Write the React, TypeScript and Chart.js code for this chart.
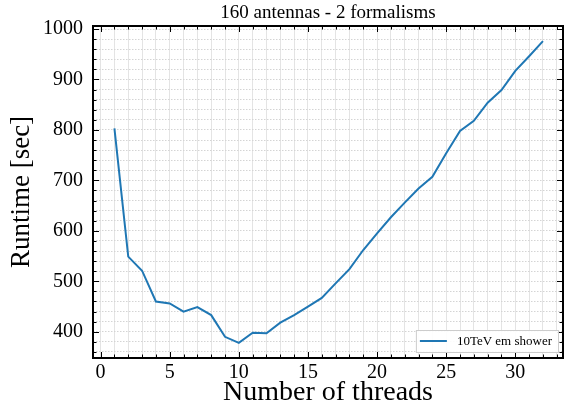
import React, { useEffect, useRef } from "react";
import { Chart, registerables } from "chart.js";

Chart.register(...registerables);

const threads = [1, 2, 3, 4, 5, 6, 7, 8, 9, 10, 11, 12, 13, 14, 15, 16, 17, 18, 19, 20, 21, 22, 23, 24, 25, 26, 27, 28, 29, 30, 31, 32];
const runtime = [803, 549, 521, 460, 456, 440, 449, 433, 390, 378, 398, 397, 418, 433, 450, 467, 496, 524, 562, 595, 627, 656, 684, 707, 754, 798, 818, 854, 879, 917, 946, 976];
const xTickValues = [0, 1, 2, 3, 4, 5, 6, 7, 8, 9, 10, 11, 12, 13, 14, 15, 16, 17, 18, 19, 20, 21, 22, 23, 24, 25, 26, 27, 28, 29, 30, 31, 32, 33];
const xMajorLabels = [0, 5, 10, 15, 20, 25, 30];
const yTickValues = [360, 380, 400, 420, 440, 460, 480, 500, 520, 540, 560, 580, 600, 620, 640, 660, 680, 700, 720, 740, 760, 780, 800, 820, 840, 860, 880, 900, 920, 940, 960, 980, 1000];
const yMajorLabels = [400, 500, 600, 700, 800, 900, 1000];
const seriesLabel = "10TeV em shower";
const chartTitle = "160 antennas - 2 formalisms";
const xTitle = "Number of threads";
const yTitle = "Runtime [sec]";

const X_MIN = -0.55;
const X_MAX = 33.45;
const Y_MIN = 348;
const Y_MAX = 1006;

const FONT = "'Liberation Serif', 'DejaVu Serif', serif";
const LINE_COLOR = "#1f77b4";

const framePlugin = {
  id: "frameTicksLegend",
  afterDatasetsDraw(chart: any) {
    const { ctx, chartArea: a, scales } = chart;
    const x = scales.x;
    const y = scales.y;
    ctx.save();
    ctx.strokeStyle = "#000";
    ctx.lineWidth = 1;
    const seg = (x1: number, y1: number, x2: number, y2: number) => {
      ctx.beginPath();
      ctx.moveTo(x1, y1);
      ctx.lineTo(x2, y2);
      ctx.stroke();
    };
    x.ticks.forEach((t: any) => {
      const px = Math.round(x.getPixelForValue(t.value)) + 0.5;
      const len = xMajorLabels.includes(t.value) ? 6 : 3.5;
      seg(px, a.bottom, px, a.bottom - len);
      seg(px, a.top, px, a.top + len);
    });
    y.ticks.forEach((t: any) => {
      const py = Math.round(y.getPixelForValue(t.value)) + 0.5;
      const len = yMajorLabels.includes(t.value) ? 6 : 3.5;
      seg(a.left, py, a.left + len, py);
      seg(a.right, py, a.right - len, py);
    });
    ctx.lineWidth = 2;
    ctx.strokeRect(a.left, a.top, a.right - a.left, a.bottom - a.top);

    // legend (lower right, inside plot)
    const label = chart.data.datasets[0].label as string;
    ctx.font = `13px ${FONT}`;
    const tw = ctx.measureText(label).width;
    const boxH = 22;
    const sample = 27;
    const boxW = 4 + sample + 10 + tw + 6;
    const bx = a.right - 5 - boxW;
    const by = a.bottom - 6 - boxH;
    ctx.fillStyle = "rgba(255,255,255,0.9)";
    ctx.fillRect(bx, by, boxW, boxH);
    ctx.strokeStyle = "#cccccc";
    ctx.lineWidth = 1;
    ctx.strokeRect(bx + 0.5, by + 0.5, boxW, boxH);
    ctx.strokeStyle = LINE_COLOR;
    ctx.lineWidth = 2;
    const cy = by + boxH / 2;
    seg(bx + 4, cy, bx + 4 + sample, cy);
    ctx.fillStyle = "#000";
    ctx.textBaseline = "middle";
    ctx.textAlign = "left";
    ctx.fillText(label, bx + 4 + sample + 10, cy + 1);
    ctx.restore();
  },
};

export default function App() {
  const canvasRef = useRef<HTMLCanvasElement | null>(null);

  useEffect(() => {
    document.body.style.margin = "0";
    const canvas = canvasRef.current;
    if (!canvas) return;
    const chart = new Chart(canvas, {
      type: "line",
      data: {
        datasets: [
          {
            label: seriesLabel,
            data: threads.map((t, i) => ({ x: t, y: runtime[i] })),
            borderColor: LINE_COLOR,
            backgroundColor: LINE_COLOR,
            borderWidth: 2,
            pointRadius: 0,
            tension: 0,
            fill: false,
            xAxisID: "x",
            yAxisID: "y",
          },
        ],
      },
      options: {
        responsive: false,
        animation: false,
        devicePixelRatio: 1,
        layout: { padding: { top: 0, right: 1, left: 0, bottom: 0 } },
        plugins: {
          legend: { display: false },
          tooltip: { enabled: false },
          title: { display: false },
        },
        scales: {
          xTop: {
            type: "linear",
            position: "top",
            min: X_MIN,
            max: X_MAX,
            afterFit: (scale: any) => {
              scale.height = 26;
            },
            grid: { display: false, drawTicks: false },
            border: { display: false },
            ticks: { display: false },
            title: {
              display: true,
              text: chartTitle,
              color: "#000",
              font: { family: FONT, size: 19 },
              padding: { top: 1.8, bottom: 0 },
            },
          },
          x: {
            type: "linear",
            position: "bottom",
            min: X_MIN,
            max: X_MAX,
            afterBuildTicks: (axis: any) => {
              axis.ticks = xTickValues.map((v) => ({ value: v }));
            },
            afterFit: (scale: any) => {
              scale.height = 55;
            },
            grid: { color: "#e4e4e4", lineWidth: 1, drawTicks: false },
            border: { display: false },
            ticks: {
              autoSkip: false,
              maxRotation: 0,
              padding: 3,
              color: "#000",
              font: { family: FONT, size: 20 },
              callback: (v: any) => (xMajorLabels.includes(v) ? String(v) : ""),
            },
            title: {
              display: true,
              text: xTitle,
              color: "#000",
              font: { family: FONT, size: 28 },
              padding: { top: 0, bottom: 3.5 },
            },
          },
          y: {
            type: "linear",
            min: Y_MIN,
            max: Y_MAX,
            afterBuildTicks: (axis: any) => {
              axis.ticks = yTickValues.map((v) => ({ value: v }));
            },
            afterFit: (scale: any) => {
              scale.width = 93;
            },
            grid: { color: "#d4d4d4", lineWidth: 1, drawTicks: false },
            border: { display: false, dash: [1.5, 1.5] },
            ticks: {
              autoSkip: false,
              padding: 10,
              color: "#000",
              font: { family: FONT, size: 20 },
              callback: (v: any) => (yMajorLabels.includes(v) ? String(v) : ""),
            },
            title: {
              display: true,
              text: yTitle,
              color: "#000",
              font: { family: FONT, size: 27 },
              padding: { top: 5.8, bottom: 0 },
            },
          },
        },
      },
      plugins: [framePlugin],
    } as any);
    return () => chart.destroy();
  }, []);

  return (
    <div style={{ width: 564, height: 413, background: "#fff" }}>
      <canvas ref={canvasRef} width={564} height={413} style={{ display: "block" }} />
    </div>
  );
}
